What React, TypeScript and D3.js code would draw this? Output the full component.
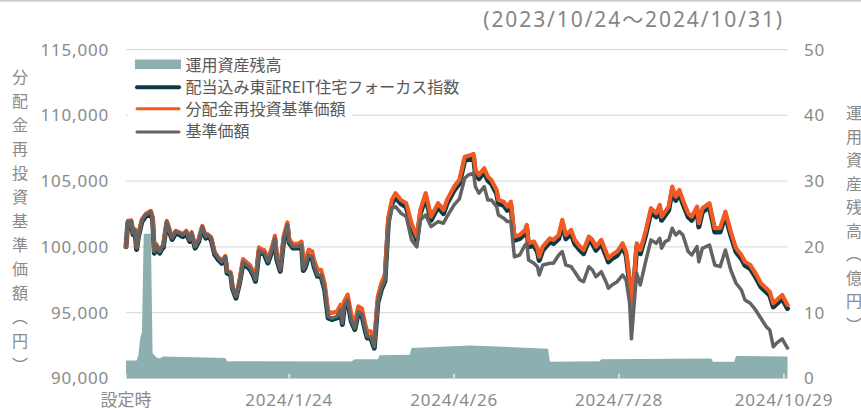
import React from "react";
import * as d3 from "d3";

const dates = [
"2023-10-24","2023-10-25","2023-10-27","2023-10-28","2023-10-29","2023-10-30","2023-10-31","2023-11-02","2023-11-04","2023-11-07",
"2023-11-08","2023-11-09","2023-11-10","2023-11-12","2023-11-13","2023-11-14","2023-11-16","2023-11-18","2023-11-19","2023-11-21",
"2023-11-23","2023-11-25","2023-11-27","2023-11-29","2023-11-30","2023-12-02","2023-12-04","2023-12-06","2023-12-08","2023-12-09",
"2023-12-11","2023-12-13","2023-12-15","2023-12-17","2023-12-19","2023-12-20","2023-12-22","2023-12-23","2023-12-25","2023-12-27",
"2023-12-29","2023-12-31","2024-01-02","2024-01-04","2024-01-05","2024-01-06","2024-01-07","2024-01-08","2024-01-10","2024-01-12",
"2024-01-14","2024-01-16","2024-01-17","2024-01-19","2024-01-21","2024-01-23","2024-01-24","2024-01-26","2024-01-29","2024-01-31",
"2024-02-01","2024-02-02","2024-02-04","2024-02-06","2024-02-07","2024-02-09","2024-02-11","2024-02-13","2024-02-15","2024-02-17",
"2024-02-20","2024-02-22","2024-02-23","2024-02-24","2024-02-26","2024-02-28","2024-03-01","2024-03-03","2024-03-05","2024-03-07",
"2024-03-08","2024-03-10","2024-03-12","2024-03-14","2024-03-16","2024-03-18","2024-03-20","2024-03-22","2024-03-24","2024-03-27",
"2024-03-30","2024-04-02","2024-04-05","2024-04-07","2024-04-10","2024-04-13","2024-04-17","2024-04-20","2024-04-22","2024-04-26",
"2024-04-29","2024-05-02","2024-05-04","2024-05-07","2024-05-08","2024-05-10","2024-05-13","2024-05-15","2024-05-17","2024-05-20",
"2024-05-21","2024-05-24","2024-05-26","2024-05-28","2024-05-30","2024-06-02","2024-06-05","2024-06-06","2024-06-07","2024-06-10",
"2024-06-12","2024-06-13","2024-06-15","2024-06-19","2024-06-21","2024-06-24","2024-06-26","2024-06-28","2024-07-01","2024-07-03",
"2024-07-06","2024-07-08","2024-07-11","2024-07-13","2024-07-15","2024-07-18","2024-07-21","2024-07-22","2024-07-24","2024-07-27",
"2024-07-30","2024-08-01","2024-08-03","2024-08-04","2024-08-06","2024-08-07","2024-08-09","2024-08-12","2024-08-15","2024-08-18",
"2024-08-20","2024-08-21","2024-08-23","2024-08-25","2024-08-27","2024-08-29","2024-08-31","2024-09-02","2024-09-05","2024-09-07",
"2024-09-10","2024-09-11","2024-09-13","2024-09-17","2024-09-20","2024-09-23","2024-09-26","2024-09-29","2024-10-02","2024-10-05",
"2024-10-07","2024-10-10","2024-10-13","2024-10-16","2024-10-19","2024-10-21","2024-10-23","2024-10-25","2024-10-28","2024-10-31"
];

// 分配金再投資基準価額
const reinvestNav = [
100000,101980,102010,101120,101350,99980,100960,102110,102490,102740,
102260,99700,100210,99700,99980,100130,101980,101120,100740,101220,
101120,100960,101220,100590,101120,100080,100590,101600,100840,100960,
100740,99600,99220,98930,99310,98170,98070,97030,96270,97410,
99070,98820,98590,98060,97680,98690,99960,99840,99740,99070,
99840,100850,99360,98440,100880,101870,100600,100220,100220,100400,
98700,98900,99780,99650,99020,98260,98260,97250,95090,94970,
95090,95600,94590,95850,96360,94840,94210,95470,95300,94080,
93570,93570,92800,96230,97250,97880,102300,103600,104080,103570,
103320,101800,100780,102810,104080,102300,103320,102810,103570,104580,
105100,106860,106920,107070,105850,105470,105980,105340,105090,104330,
103570,103440,103060,103440,100780,100900,101290,101670,100270,100400,
99890,99250,100020,100650,100530,100900,102050,100900,101290,100530,
100020,99760,100780,100530,100020,100530,99510,99130,99380,99640,
100270,99640,97480,95300,98490,100270,99760,101160,102940,102560,
103190,102300,102680,103060,104580,103820,104330,103570,102560,102300,
103060,101800,102940,103320,101420,101420,102680,101160,99890,99380,
98870,98620,97990,97230,96850,96590,95710,95960,96340,95580
];

// 配当込み東証REIT住宅フォーカス指数
const indexValues = [
100000,101800,101830,100940,101170,99800,100780,101930,102310,102560,
102080,99520,100030,99520,99800,99950,101800,100940,100560,101040,
100940,100780,101040,100410,100940,99900,100410,101420,100660,100780,
100560,99420,99040,98750,99130,97990,97890,96850,96090,97230,
98770,98520,98290,97760,97380,98390,99660,99540,99440,98770,
99540,100550,99060,98140,100580,101570,100300,99920,99920,100050,
98200,98400,99280,99150,98520,97760,97760,96750,94590,94470,
94590,95100,94090,95350,95860,94340,93710,94970,94800,93580,
93070,93070,92300,95730,96750,97380,102000,103300,103800,103290,
103040,101520,100500,102530,103800,102020,103040,102530,103290,104300,
104820,106580,106640,106790,105570,105190,105700,105060,104810,104050,
103290,103160,102780,103160,100500,100620,101010,101390,99990,100120,
99610,98970,99740,100370,100250,100620,101770,100620,101010,100250,
99740,99480,100500,100250,99740,100250,99230,98850,99100,99360,
99990,99360,97200,95020,98210,99990,99480,100880,102660,102280,
102910,102020,102400,102780,104300,103540,104050,103290,102280,102020,
102780,101520,102660,103040,101140,101140,102400,100880,99610,99100,
98590,98340,97710,96950,96570,96310,95430,95680,96060,95300
];

// 基準価額
const navValues = [
100000,101920,101950,101060,101290,99920,100900,102050,102430,102680,
102200,99640,100150,99640,99920,100070,101920,101060,100680,101160,
101060,100900,101160,100530,101060,100020,100530,101540,100780,100900,
100680,99540,99160,98870,99250,98110,98010,96970,96210,97350,
98870,98620,98390,97860,97480,98490,99760,99640,99540,98870,
99640,100650,99160,98240,100680,101670,100400,100020,100020,100150,
98300,98500,99380,99250,98620,97860,97860,96850,94690,94570,
94690,95200,94190,95450,95960,94440,93810,95070,94900,93680,
93170,93170,92400,95830,96850,97480,101600,103000,103060,102560,
102300,100530,100000,102050,102430,101540,101920,101800,102300,103190,
103650,105220,105470,105600,104580,104080,104580,103570,103570,103060,
102430,102180,101920,101920,99250,99380,100140,100270,99000,98750,
98490,97860,98620,98750,98750,99380,99640,98620,98490,98110,
97480,97350,98490,98240,97730,98110,97230,96850,97100,97350,
97860,97480,95710,93000,96470,97990,97100,98870,100530,100270,
100650,99890,100400,100530,101420,100900,101160,100900,99640,99380,
100020,98870,99890,100140,98620,98490,99760,98240,97230,96720,
95960,95710,95200,94570,93930,93680,92400,92700,93000,92300
];

// 運用資産残高（億円）
const aumDates = ["2023-10-24","2023-10-30","2023-10-31","2023-11-01","2023-11-02","2023-11-03","2023-11-07","2023-11-08","2023-11-10","2023-11-12","2023-11-14","2023-12-19","2023-12-20","2024-02-28","2024-03-01","2024-03-14","2024-03-15","2024-04-01","2024-04-02","2024-05-05","2024-06-18","2024-06-19","2024-07-17","2024-07-18","2024-09-18","2024-09-19","2024-10-01","2024-10-02","2024-10-31"];
const aumValues = [2.7,2.7,3.5,6.0,7.0,22.0,22.0,3.8,3.2,3.0,3.3,3.1,2.6,2.55,2.9,2.9,3.5,3.6,4.6,5.0,4.5,2.5,2.6,2.9,3.0,2.5,2.5,3.4,3.3];

const leftTicks = [90000, 95000, 100000, 105000, 110000, 115000];
const rightTicks = [0, 10, 20, 30, 40, 50];
const xTickDates = ["2023-10-24", "2024-01-24", "2024-04-26", "2024-07-28", "2024-10-29"];
const xTickLabels = ["設定時", "2024/1/24", "2024/4/26", "2024/7/28", "2024/10/29"];

const legendLabels = ["運用資産残高", "配当込み東証REIT住宅フォーカス指数", "分配金再投資基準価額", "基準価額"];
const titleText = "(2023/10/24～2024/10/31)";
const leftTitle = "分配金再投資基準価額（円）";
const rightTitle = "運用資産残高（億円）";

const COL_AREA = "#8cafb0";
const COL_INDEX = "#0b3a44";
const COL_REINV = "#f15a22";
const COL_NAV = "#636363";
const TEXT = "#8a8a8a";
const JP = "'Noto Sans CJK JP', 'Noto Sans', sans-serif";
const LAT = "'Noto Sans', 'Noto Sans CJK JP', sans-serif";

export default function App() {
  const W = 861, H = 410;
  const left = 126, right = 787.5, top = 49.7, bottom = 378.3;
  const parse = d3.timeParse("%Y-%m-%d");
  const x = d3.scaleTime().domain([parse("2023-10-24")!, parse("2024-10-31")!]).range([left, right]);
  const yL = d3.scaleLinear().domain([90000, 115000]).range([bottom, top]);
  const yR = d3.scaleLinear().domain([0, 50]).range([bottom, top]);

  const pts = dates.map((d, i) => ({ t: parse(d)!, r: reinvestNav[i], idx: indexValues[i], nav: navValues[i] }));
  const aum = aumDates.map((d, i) => ({ t: parse(d)!, v: aumValues[i] }));

  const area = d3.area<any>().x(d => x(d.t)).y0(yR(0)).y1(d => yR(d.v))(aum) || "";
  const mk = (k: string) => d3.line<any>().x(d => x(d.t)).y(d => yL(d[k]))(pts) || "";

  const fmt = d3.format(",");

  return (
    <div>
      <style>{`body{margin:0;background:#fff}`}</style>
      <svg width={W} height={H} style={{ display: "block" }}>
        <rect x={0} y={0} width={W} height={H} fill="#fff" />
        <line x1={0} x2={W} y1={0.8} y2={0.8} stroke="#cccccc" strokeWidth={2} />
        <text x={784} y={27} textAnchor="end" fontFamily={LAT} fontSize={21} letterSpacing={1.9} fill="#858585">{titleText}</text>

        {leftTicks.map(t => (
          <line key={"g" + t} x1={left} x2={right} y1={yL(t)} y2={yL(t)} stroke="#dddddd" strokeWidth={1.3} />
        ))}

        <path d={area} fill={COL_AREA} />
        {xTickDates.map(d => (
          <line key={"xt" + d} x1={x(parse(d)!)} x2={x(parse(d)!)} y1={bottom - 4.5} y2={bottom} stroke="#fff" strokeWidth={1.2} />
        ))}

        <path d={mk("idx")} fill="none" stroke={COL_INDEX} strokeWidth={5} strokeLinejoin="round" strokeLinecap="round" />
        <path d={mk("r")} fill="none" stroke={COL_REINV} strokeWidth={4.2} strokeLinejoin="round" strokeLinecap="round" />
        <path d={mk("nav")} fill="none" stroke={COL_NAV} strokeWidth={3.5} strokeLinejoin="round" strokeLinecap="round" />

        {leftTicks.map(t => (
          <text key={"lt" + t} x={109} y={yL(t) + 6} textAnchor="end" fontFamily={LAT} fontSize={17} letterSpacing={0.8} fill={TEXT}>{fmt(t)}</text>
        ))}
        {rightTicks.map(t => (
          <text key={"rt" + t} x={804} y={yR(t) + 6} textAnchor="start" fontFamily={LAT} fontSize={17} letterSpacing={0.8} fill={TEXT}>{t}</text>
        ))}
        {xTickDates.map((d, i) => (
          <text key={"xl" + d} x={x(parse(d)!)} y={405.5} textAnchor="middle" fontFamily={i === 0 ? JP : LAT} fontSize={17} letterSpacing={i === 0 ? 0 : 0.8} fill={TEXT}>{xTickLabels[i]}</text>
        ))}

        <text x={20} y={69} fontFamily={JP} fontSize={16} letterSpacing={8} fill={TEXT} style={{ writingMode: "vertical-rl" } as any}>{leftTitle}</text>
        <text x={854} y={105} fontFamily={JP} fontSize={16} letterSpacing={7.5} fill={TEXT} style={{ writingMode: "vertical-rl" } as any}>{rightTitle}</text>

        <g>
          <rect x={128} y={54} width={224} height={88} fill="#fff" />
          <rect x={135} y={59.5} width={46} height={9.5} fill={COL_AREA} />
          <line x1={137} x2={179} y1={87.3} y2={87.3} stroke={COL_INDEX} strokeWidth={4} strokeLinecap="round" />
          <line x1={137} x2={179} y1={108.7} y2={108.7} stroke={COL_REINV} strokeWidth={3} strokeLinecap="round" />
          <line x1={137} x2={179} y1={132} y2={132} stroke={COL_NAV} strokeWidth={3} strokeLinecap="round" />
          {legendLabels.map((l, i) => (
            <text key={l} x={185.5} y={65 + i * 22.2 + 5.5} fontFamily={JP} fontSize={16} fill="#595959">{l}</text>
          ))}
        </g>
      </svg>
    </div>
  );
}
